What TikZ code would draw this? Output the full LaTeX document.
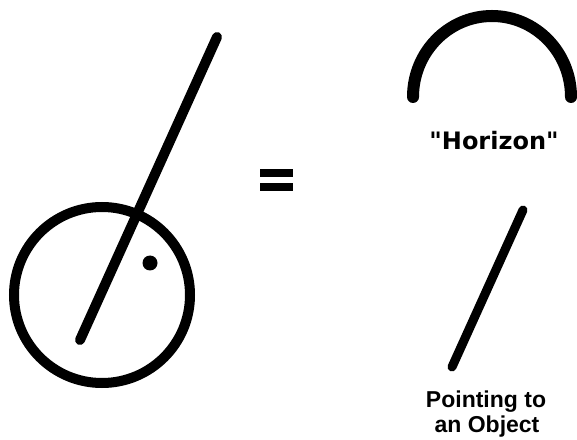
\documentclass[tikz,border=0pt]{standalone}
\usepackage{fontspec}
\setmainfont{Liberation Sans}
\newfontfamily\horizonfont{DejaVu Sans}
\usetikzlibrary{positioning}

\tikzset{
  stroke/.style={line width=10pt, line cap=round},
  caption/.style={inner sep=0pt, anchor=base, font=\fontsize{23}{25}\selectfont\bfseries}
}

\begin{document}
\begin{tikzpicture}[x=1pt,y=1pt]
\useasboundingbox[fill=white] (0,0) rectangle (577,439);
% left symbol: circle, pointer and dot
\draw[stroke] (102,144) circle (88pt);
\draw[stroke] (80,99) -- (217,402);
\fill (150,176) circle (7.5pt);
% equals sign
\fill (260,262) rectangle (293,270);
\fill (260,248) rectangle (293,256);
% horizon
\draw[stroke, line width=12pt] (413,342) arc (180:0:79pt and 81pt);
\node[caption, font=\fontsize{24}{26}\selectfont\horizonfont\bfseries] (horizon) at (494,289) {"Horizon"};
% pointing
\draw[stroke, line width=9pt] (452,72) -- (523,229);
\node[caption] (pointing) at (486,32) {Pointing to};
\node[caption] (object) at (487,7) {an Object};
\end{tikzpicture}
\end{document}
